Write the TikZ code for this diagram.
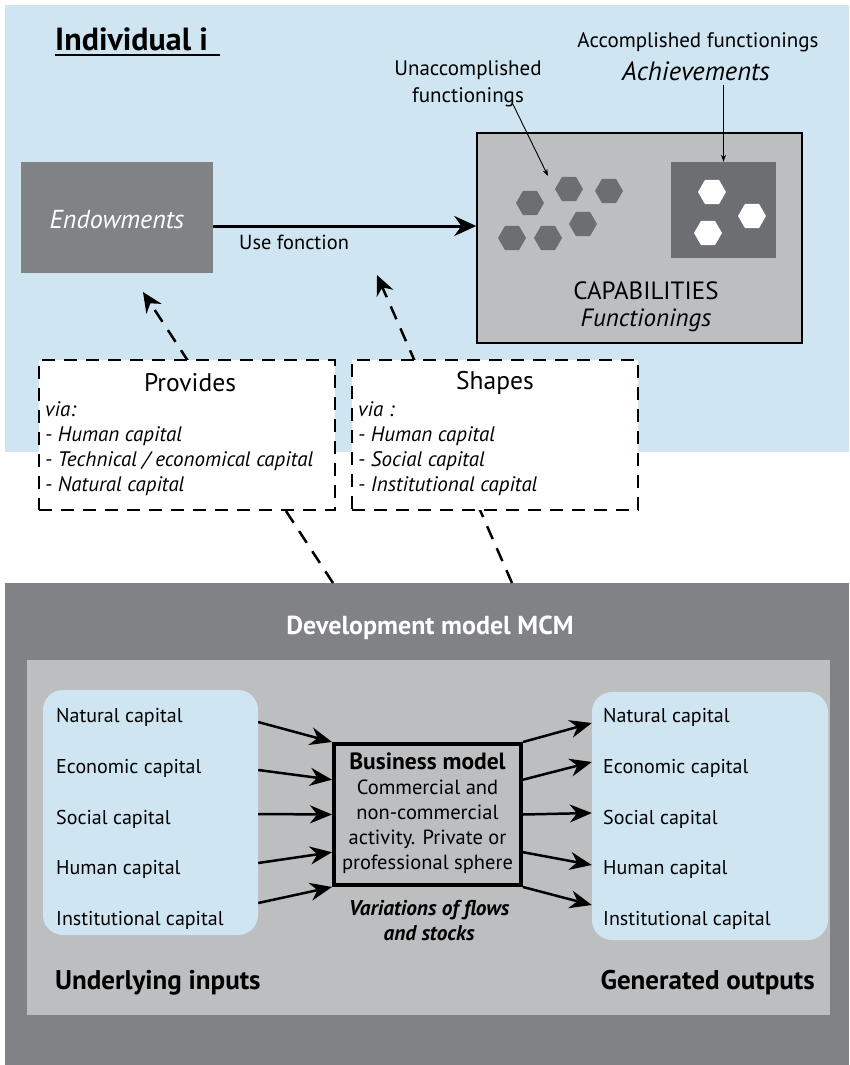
\documentclass[tikz,border=0pt]{standalone}
\usepackage{fontspec}
\setmainfont{PT Sans}
\usetikzlibrary{positioning,arrows.meta,shapes.geometric,calc}

\definecolor{skyblue}{RGB}{207,229,242}
\definecolor{midgray}{RGB}{128,130,133}
\definecolor{panelgray}{RGB}{188,190,192}
\definecolor{hexgray}{RGB}{109,110,113}

\begin{document}
\begin{tikzpicture}[x=1pt, y=-1pt,
  every node/.style={inner sep=0pt},
  txt/.style={font=\fontsize{20.5}{25}\selectfont},
  small/.style={font=\fontsize{21}{27}\selectfont},
  big/.style={font=\fontsize{25}{27}\selectfont},
  item/.style={font=\fontsize{21}{25}\selectfont\itshape, anchor=base west},
  capitem/.style={font=\fontsize{20}{25}\selectfont, anchor=base west},
  heading/.style={font=\fontsize{27}{30}\selectfont\bfseries},
  hexa/.style={regular polygon, regular polygon sides=6, minimum size=28pt, fill=#1},
  dbox/.style={draw, fill=white, line width=2.5pt, dash pattern=on 13pt off 9pt, minimum height=150pt},
  capbox/.style={fill=skyblue, rounded corners=20pt},
  mainarrow/.style={-{Stealth[length=22pt,width=20pt]}, line width=3pt},
  flow/.style={-{Stealth[length=22pt,width=18pt]}, line width=2.5pt},
  dashlink/.style={-{Stealth[length=20pt,width=18pt]}, line width=2.5pt, dash pattern=on 14pt off 10pt},
  pointer/.style={-{Stealth[length=7pt,width=5pt]}, line width=0.9pt}
]
\useasboundingbox (0,0) rectangle (849,1065);

% backgrounds
\fill[skyblue] (5,5) rectangle (849,452);
\fill[midgray] (5,583) rectangle (849,1065);
\fill[panelgray] (27,660) rectangle (830,1015);

% individual i
\node[font=\fontsize{32}{35}\selectfont\bfseries, anchor=base west] (indiv) at (55,51) {Individual i};
\draw[line width=1.6pt] ([yshift=-4pt]indiv.base west) -- ++(165,0);

\node[fill=midgray, minimum width=192pt, minimum height=111pt] (endow) at (117,217.5) {};
\node[text=white, font=\fontsize{26}{27}\selectfont\itshape] at ([yshift=-2pt]endow.center) {Endowments};

\node[draw, line width=1.5pt, fill=panelgray, minimum width=325pt, minimum height=210pt] (cap) at (639.5,238) {};
\node[fill=hexgray, minimum width=105pt, minimum height=96pt] (ach) at (723.5,210) {};
\foreach \hx/\hy in {530/203, 569/189, 609/191, 583/224, 512/238, 548/238}
  \node[hexa=hexgray] at (\hx,\hy) {};
\foreach \hx/\hy in {712/192, 752/216, 708/233}
  \node[hexa=white] at (\hx,\hy) {};
\node[big, align=center] (capname) at (646,307) {CAPABILITIES\\\textit{Functionings}};

\node[small] (accom) at (698,42) {Accomplished functionings};
\node[font=\fontsize{26.5}{27}\selectfont\itshape] (achv) at (696,71) {Achievements};
\node[small, align=center] (unacc) at (468,84) {Unaccomplished\\functionings};
\coordinate (hexfirst) at (548,176);
\draw[pointer] ([xshift=45pt,yshift=3pt]unacc.south) -- (hexfirst);
\draw[pointer] (ach.north |- achv.south) ++(0,4) -- (ach.north);

\coordinate (usefn) at (213,226);
\draw[mainarrow] (usefn) -- (cap.west |- usefn);
\node[small, font=\fontsize{20.4}{25}\selectfont, anchor=west] (uselabel) at (239,242) {Use fonction};

% links from the development model
\coordinate (footA) at (333,583);
\coordinate (tipA) at (143,292);
\coordinate (footB) at (512,583);
\coordinate (tipB) at (377,275);
\draw[dashlink] (footA) -- (tipA);
\draw[dashlink] (footB) -- (tipB);

\node[dbox, minimum width=296pt] (prov) at (187,435) {};
\node[dbox, minimum width=286pt] (shape) at (495,435) {};
\node[big, font=\fontsize{25.5}{27}\selectfont] at (190,383) {Provides};
\node[big, font=\fontsize{25.5}{27}\selectfont] at (495,383) {Shapes};
\foreach \t [count=\k] in {via:, - Human capital, {- Technical / economical capital}, - Natural capital}
  \node[item] at (45,391+25*\k) {\t};
\foreach \t [count=\k] in {via :, - Human capital, - Social capital, - Institutional capital}
  \node[item] at (358,391+25*\k) {\t};

% development model
\node[font=\fontsize{26}{27}\selectfont\bfseries, text=white] (devtitle) at (430,628) {Development model MCM};

\node[capbox, minimum width=215pt, minimum height=245pt] (inputs) at (150.5,812.5) {};
\node[capbox, minimum width=236pt, minimum height=248pt] (outputs) at (710,816) {};
\foreach \t [count=\k] in {Natural capital, Economic capital, Social capital, Human capital, Institutional capital} {
  \node[capitem] (in\k) at (56,672+50.7*\k) {\t};
  \node[capitem] (out\k) at (603,672+50.7*\k) {\t};
}

\node[draw, line width=4pt, fill=panelgray, minimum width=187pt, minimum height=141pt] (bm) at (427.5,814.5) {};
\node[txt, align=center] (bmtext) at (427.5,813) {{\fontsize{23.5}{25}\selectfont\bfseries Business model}\\Commercial and\\non-commercial\\activity. Private or\\professional sphere};
\node[align=center, font=\fontsize{21.3}{25}\selectfont\bfseries\itshape] (vary) at (429,920.5) {Variations of flows\\and stocks};

\foreach \a/\b/\c in {722/0/723, 770/0.26/762, 814/0.5/813, 863/0.76/865, 903/1/905} {
  \draw[flow] (inputs.east |- 0,\a) -- ($(bm.north west)!\b!(bm.south west)$);
  \draw[flow] ($(bm.north east)!\b!(bm.south east)$) -- (outputs.west |- 0,\c);
}

\node[heading, anchor=base west] (underin) at (55,989) {Underlying inputs};
\node[heading, anchor=base east] (genout) at (815,989) {Generated outputs};
\end{tikzpicture}
\end{document}
